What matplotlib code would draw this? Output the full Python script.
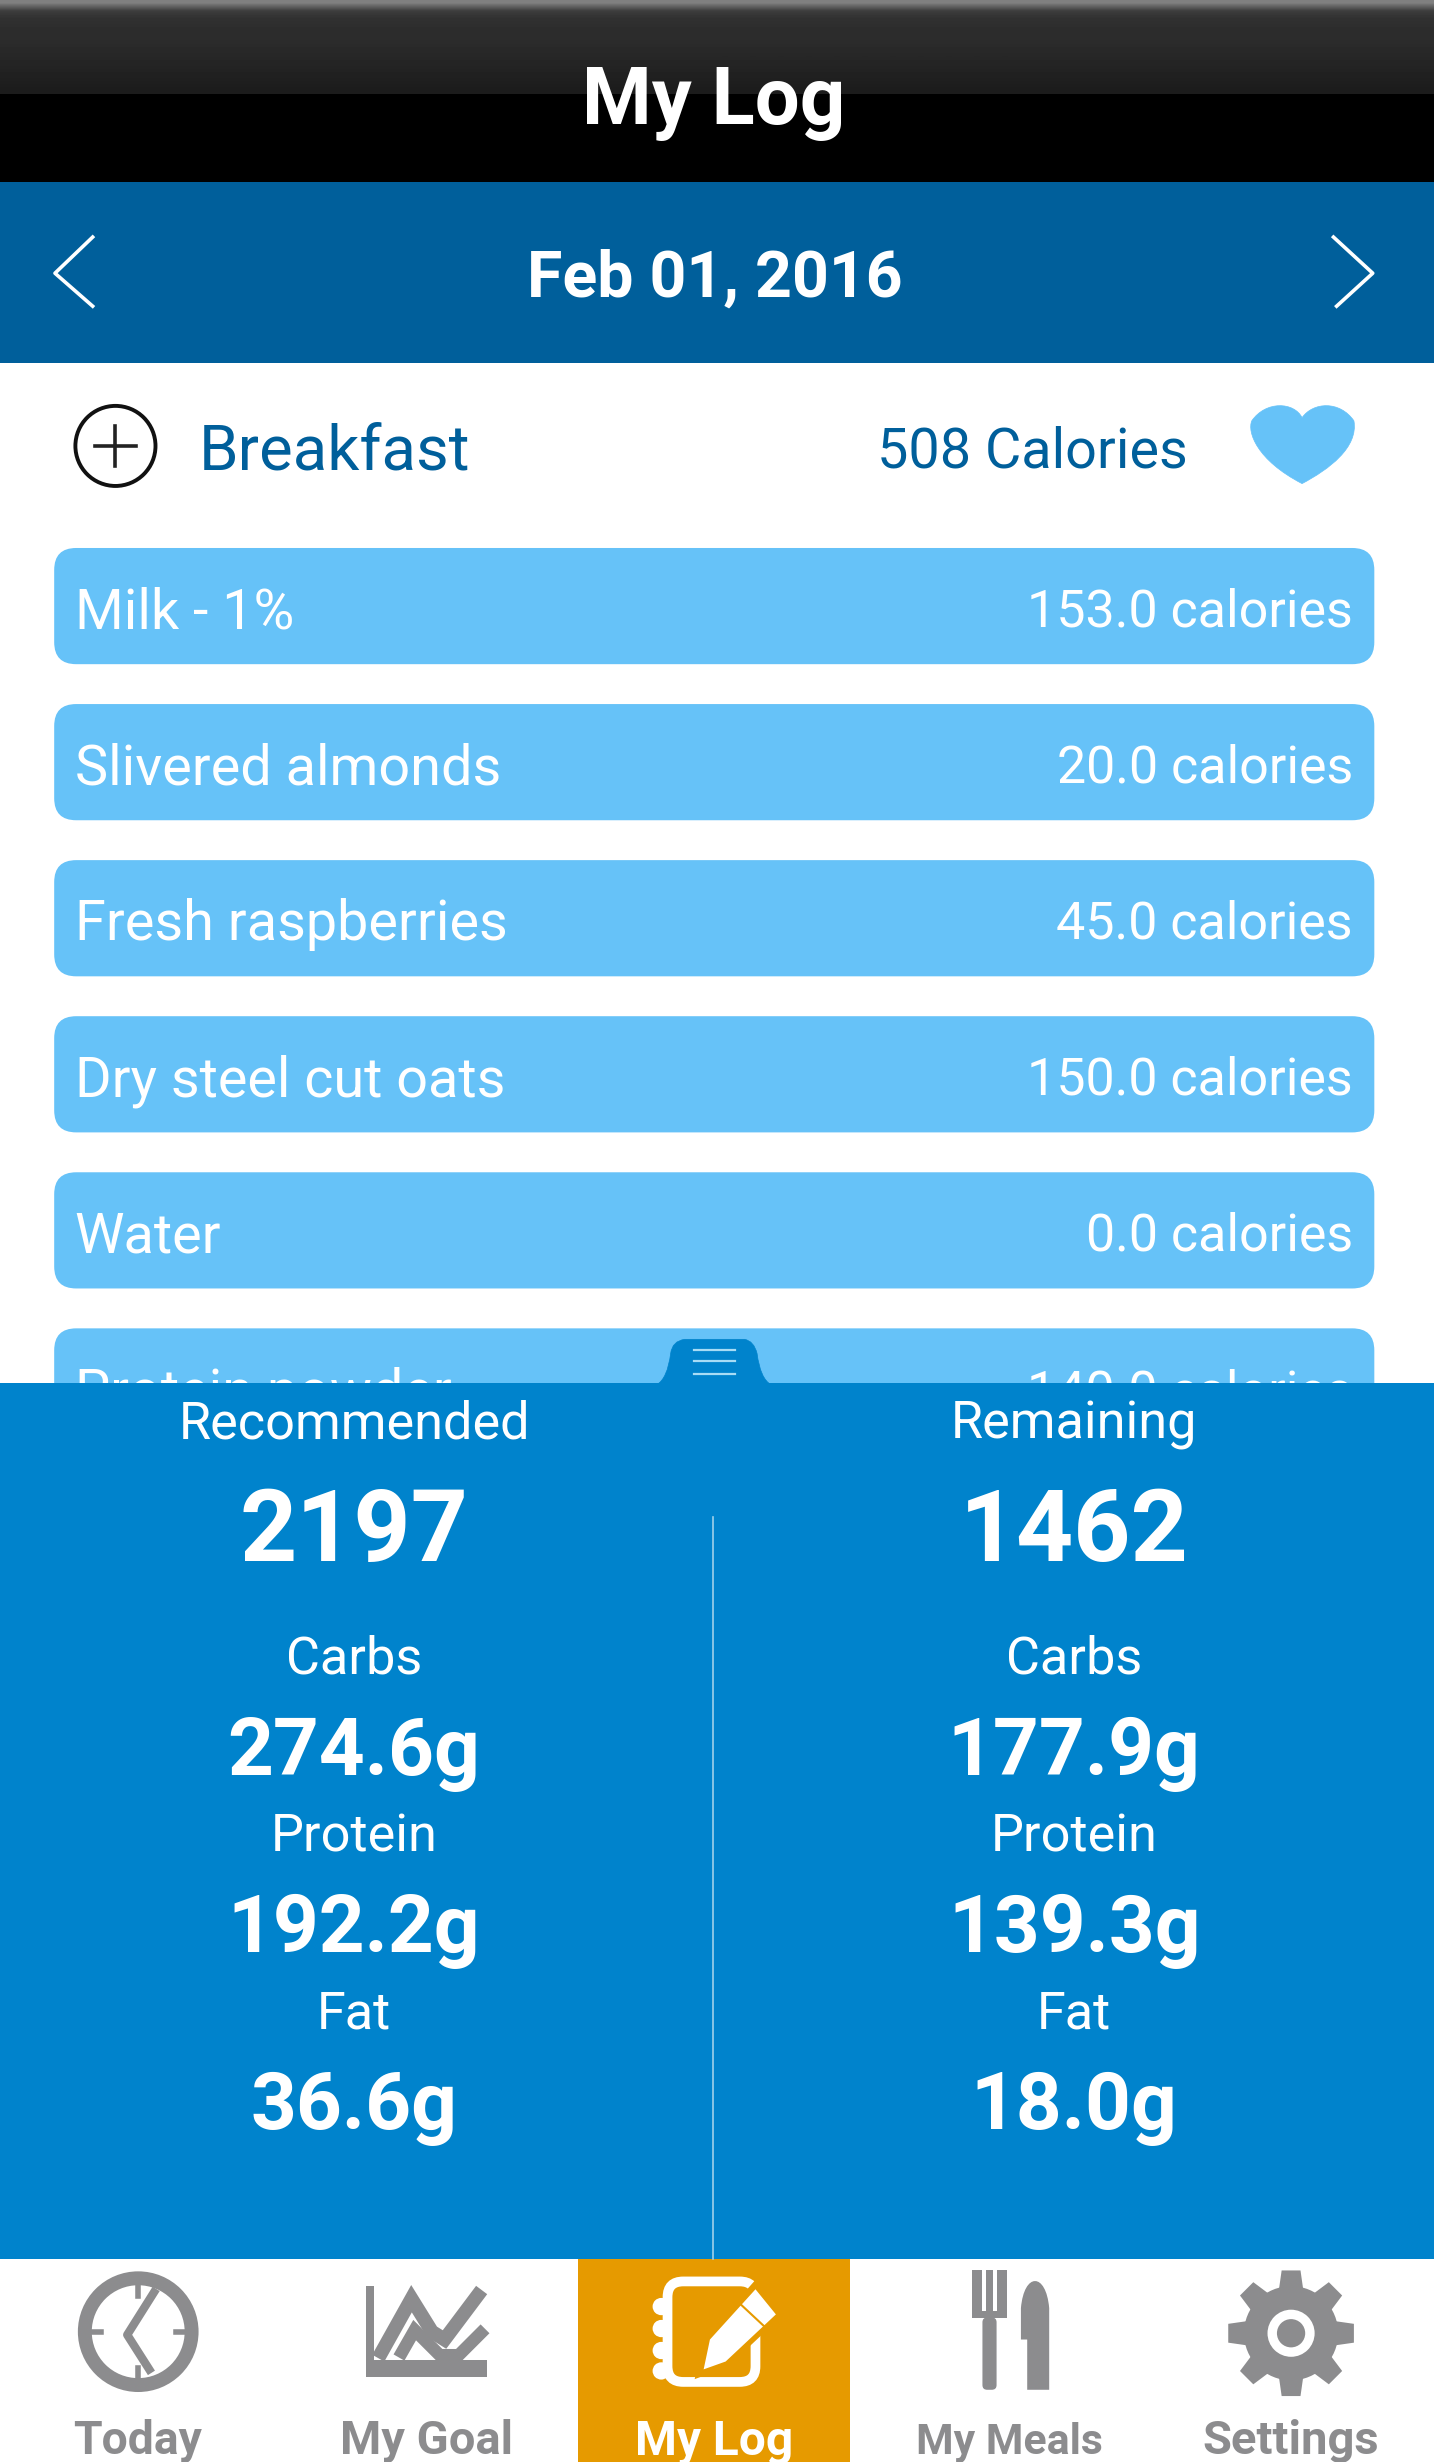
import numpy as np
import matplotlib
matplotlib.use("Agg")
import matplotlib.pyplot as plt
from matplotlib.patches import FancyBboxPatch, Rectangle, Circle, Polygon, PathPatch
from matplotlib.path import Path

plt.rcParams['font.family'] = ['Roboto', 'DejaVu Sans']

foods = ["Milk - 1%", "Slivered almonds", "Fresh raspberries", "Dry steel cut oats", "Water", "Protein powder"]
food_calories = [153.0, 20.0, 45.0, 150.0, 0.0, 140.0]
meal_name = "Breakfast"
meal_total = 508
log_date = "Feb 01, 2016"
column_heads = ["Recommended", "Remaining"]
calorie_totals = [2197, 1462]
macro_names = ["Carbs", "Protein", "Fat"]
recommended_macros = [274.6, 192.2, 36.6]
remaining_macros = [177.9, 139.3, 18.0]
tabs = ["Today", "My Goal", "My Log", "My Meals", "Settings"]

W, H = 913, 1568
S = 1434 / W
fig = plt.figure(figsize=(14.34, 24.62), dpi=100)
ax = fig.add_axes([0, 0, 1, 1])
ax.set_xlim(0, W); ax.set_ylim(H, 0); ax.axis('off')

def fs(px):
    return px * S * 0.72

def T(x, y, s, size, color='white', weight='normal', ha='center', z=10, **kw):
    return ax.text(x, y - 1.3, s, fontsize=fs(size), color=color, fontweight=weight, ha=ha,
                   va='center_baseline', zorder=z, **kw)

# header
grad = np.array([[0.50],[0.24],[0.19],[0.18],[0.175],[0.17],[0.16],[0.15],[0.14],[0.13],[0.12],[0.11]])
ax.imshow(grad, extent=[0, W, 60, 0], aspect='auto', zorder=1, interpolation='bilinear',
          cmap='gray', vmin=0, vmax=1)
ax.set_xlim(0, W); ax.set_ylim(H, 0)
ax.add_patch(Rectangle((0, 60), W, 56, color='black', zorder=1, lw=0))
T(454.5, 62, "My Log", 50.7, weight='bold')

# date bar
ax.add_patch(Rectangle((0, 116), W, 115, color='#005f9b', zorder=1, lw=0))
T(455, 175, log_date, 41, weight='bold')
ax.plot([59, 35, 59], [151, 174, 195], color='white', lw=2.6, zorder=5)
ax.plot([849, 874, 851], [151, 174, 195], color='white', lw=2.6, zorder=5)

# meal header
ax.add_patch(Circle((73.5, 284), 25.5, fc='white', ec='#111111', lw=2.8, zorder=3))
ax.plot([60.5, 86.5], [284, 284], color='#222222', lw=2.6, zorder=4)
ax.plot([73.5, 73.5], [271, 297], color='#222222', lw=2.6, zorder=4)
T(126.5, 285.5, meal_name, 40.4, color='#005f9b', ha='left')
T(756, 285.5, f"{meal_total} Calories", 35.5, color='#005f9b', ha='right')
heart = Path([(829, 308), (800, 293), (794, 275), (797, 268), (806, 255), (824, 256), (829, 266),
              (836, 256), (853, 255), (862, 268), (865, 285), (846, 299), (829, 308), (829, 308)],
             [Path.MOVETO] + [Path.CURVE4] * 12 + [Path.CLOSEPOLY])
ax.add_patch(PathPatch(heart, fc='#66c2f8', ec='#66c2f8', lw=0.5, zorder=3))

# food rows
row_top, row_step, row_h = 349, 99.4, 74
pad = 14
for i, (name, cal) in enumerate(zip(foods, food_calories)):
    y = row_top + i * row_step
    ax.add_patch(FancyBboxPatch((34.5 + pad, y + pad), 840.5 - 2 * pad, row_h - 2 * pad,
                                boxstyle=f"round,pad={pad},rounding_size={pad}",
                                fc='#66c2f8', ec='none', zorder=2))
    T(47.5, y + 39, name, 35.5, ha='left', z=3)
    T(861.5, y + 39, f"{cal:.1f} calories", 33.1, ha='right', z=3)

# stats panel
PANEL = '#0083cc'
ax.add_patch(Rectangle((0, 881), W, 558, color=PANEL, zorder=6, lw=0))
tab_shape = Path([(418, 882), (425, 878), (427, 862), (428, 854), (436, 853), (474, 853),
                  (480, 854), (482, 862), (484, 878), (491, 882), (418, 882)],
                 [Path.MOVETO, Path.CURVE3, Path.CURVE3, Path.CURVE3, Path.CURVE3, Path.LINETO,
                  Path.CURVE3, Path.CURVE3, Path.CURVE3, Path.CURVE3, Path.CLOSEPOLY])
ax.add_patch(PathPatch(tab_shape, fc=PANEL, ec=PANEL, lw=0.5, zorder=6))
for yy in (860, 867, 875):
    ax.plot([442, 468], [yy, yy], color='#a8dcf5', lw=1.6, zorder=7)
ax.plot([454, 454], [966, 1439], color='#9fd0ea', lw=1.2, zorder=7)

macro_label_y = [1055, 1168, 1280.5]
macro_value_y = [1113, 1226, 1339]
for xc, head, tot, macros in zip((225.5, 684), column_heads, calorie_totals,
                                 (recommended_macros, remaining_macros)):
    T(xc, 905, head, 33.3, z=8)
    T(xc, 971.5, str(tot), 63.5, weight='bold', z=8)
    for name, val, ly, vy in zip(macro_names, macros, macro_label_y, macro_value_y):
        T(xc, ly, name, 33.3, z=8)
        T(xc, vy, f"{val:.1f}g", 51, weight='bold', z=8)

# tab bar
ax.add_patch(Rectangle((368, 1439), 173, 129, color='#e69a00', zorder=1, lw=0))
GREY = '#8c8c8e'
tab_x = [87.5, 271.5, 454.5, 643, 822]
tab_y = [1553, 1553, 1553, 1554, 1553]
tab_size = [29.5, 30, 30.5, 27.3, 30]
for i, (lab, xx, yy, sz) in enumerate(zip(tabs, tab_x, tab_y, tab_size)):
    T(xx, yy, lab, sz, color='white' if i == 2 else GREY, weight='bold', z=5)

# Today clock
ax.add_patch(Circle((88, 1485), 34, fc='white', ec=GREY, lw=10, zorder=3))
ax.plot([98, 81, 95], [1460, 1487, 1509], color=GREY, lw=6, zorder=4)
for (a, b, c, d) in [(88, 1452, 88, 1462), (88, 1508, 88, 1518), (55, 1485, 64, 1485), (112, 1485, 121, 1485)]:
    ax.plot([a, c], [b, d], color=GREY, lw=4, zorder=4)

# My Goal chart icon
ax.add_patch(Rectangle((233, 1456), 5, 58, color=GREY, zorder=3, lw=0))
ax.add_patch(Rectangle((233, 1503), 77, 11, color=GREY, zorder=3, lw=0))
ax.plot([243, 262, 275, 283, 304], [1498, 1464, 1485, 1490, 1462], color=GREY, lw=10, zorder=3, solid_joinstyle='miter')
ax.plot([256, 264, 280, 292, 306], [1498, 1484, 1500, 1500, 1486], color=GREY, lw=9, zorder=3, solid_joinstyle='miter')

# My Log notebook icon
ax.add_patch(FancyBboxPatch((428, 1456), 50, 58, boxstyle="round,pad=3,rounding_size=10",
                            fc='none', ec='white', lw=7, zorder=3))
for yy in (1469, 1483, 1497, 1510):
    ax.add_patch(Circle((421, yy), 5.5, fc='white', ec='none', zorder=4))
ax.add_patch(Polygon([(481, 1456), (495, 1474), (462, 1505), (446, 1511), (451, 1490)],
                     fc='#e69a00', ec='#e69a00', lw=6, zorder=4))
ax.add_patch(Polygon([(481, 1458), (494, 1474), (462, 1504), (448, 1509), (452, 1490)],
                     fc='white', ec='none', zorder=5))
ax.plot([472, 487], [1468, 1482], color='#e69a00', lw=1.5, zorder=6)

# My Meals fork and knife
ax.add_patch(Rectangle((619, 1446), 22, 30, color=GREY, zorder=3, lw=0))
for xx in (625, 632.5):
    ax.add_patch(Rectangle((xx, 1446), 2.5, 26, color='white', zorder=4, lw=0))
ax.add_patch(FancyBboxPatch((625.5, 1476), 9, 46, boxstyle="round,pad=0,rounding_size=3", fc=GREY, ec='none', zorder=3))
knife = Path([(654, 1522), (654, 1490), (650, 1490), (650, 1470), (652, 1447), (666, 1447), (668, 1470),
              (668, 1522), (654, 1522)],
             [Path.MOVETO, Path.LINETO, Path.LINETO, Path.LINETO, Path.CURVE4, Path.CURVE4, Path.CURVE4,
              Path.LINETO, Path.CLOSEPOLY])
ax.add_patch(PathPatch(knife, fc=GREY, ec='none', zorder=3))

# Settings gear
ax.add_patch(Circle((822, 1486), 30, fc=GREY, ec='none', zorder=3))
for k in range(8):
    a = k * np.pi / 4
    c, s = np.cos(a), np.sin(a)
    pts = [(-8, 26), (-6, 40), (6, 40), (8, 26)]
    ax.add_patch(Polygon([(822 + px * c - py * s, 1486 + px * s + py * c) for px, py in pts],
                         fc=GREY, ec='none', zorder=3))
ax.add_patch(Circle((822, 1486), 15, fc='white', ec='none', zorder=4))
ax.add_patch(Circle((822, 1486), 9, fc=GREY, ec='none', zorder=5))

fig.savefig("out.png", dpi=100, facecolor='white')
